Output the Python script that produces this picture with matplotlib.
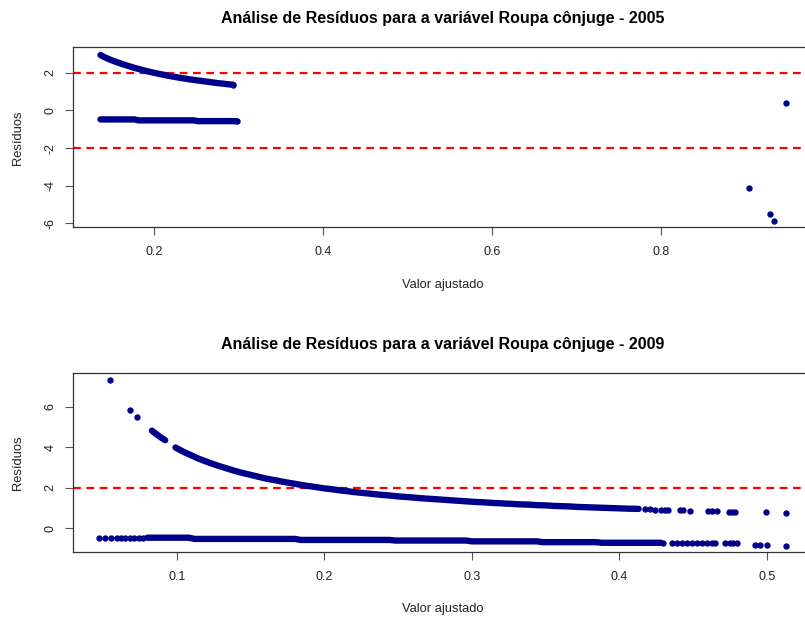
import matplotlib
matplotlib.use("Agg")
import matplotlib.pyplot as plt

# ---- 2005 panel ----
# dense runs of points (read along the bands)
x05_upper = [0.137, 0.142, 0.147, 0.152, 0.157, 0.162, 0.167, 0.172, 0.177, 0.182,
             0.187, 0.192, 0.197, 0.202, 0.207, 0.212, 0.217, 0.222, 0.227, 0.232,
             0.237, 0.242, 0.247, 0.252, 0.257, 0.262, 0.267, 0.272, 0.277, 0.282,
             0.287, 0.292, 0.294]
r05_upper = [2.94, 2.82, 2.72, 2.63, 2.55, 2.47, 2.40, 2.33, 2.26, 2.20,
             2.14, 2.08, 2.03, 1.98, 1.93, 1.89, 1.84, 1.80, 1.76, 1.72,
             1.69, 1.65, 1.62, 1.59, 1.56, 1.53, 1.50, 1.47, 1.44, 1.42,
             1.39, 1.37, 1.36]
x05_lower = [0.137, 0.142, 0.147, 0.152, 0.157, 0.162, 0.167, 0.172, 0.177, 0.182,
             0.187, 0.192, 0.197, 0.202, 0.207, 0.212, 0.217, 0.222, 0.227, 0.232,
             0.237, 0.242, 0.247, 0.252, 0.257, 0.262, 0.267, 0.272, 0.277, 0.282,
             0.287, 0.292, 0.298]
r05_lower = [-0.48, -0.48, -0.48, -0.48, -0.48, -0.48, -0.48, -0.48, -0.48, -0.53,
             -0.53, -0.53, -0.53, -0.53, -0.53, -0.53, -0.53, -0.53, -0.53, -0.53,
             -0.53, -0.53, -0.53, -0.57, -0.57, -0.57, -0.57, -0.57, -0.57, -0.57,
             -0.57, -0.57, -0.58]
# isolated points
x05_dots = [0.904, 0.929, 0.933, 0.948]
r05_dots = [-4.13, -5.52, -5.88, 0.39]

# ---- 2009 panel ----
x09_upper_a = [0.083, 0.086, 0.089, 0.092]
r09_upper_a = [4.82, 4.65, 4.49, 4.35]
x09_upper_b = [0.099, 0.103, 0.107, 0.111, 0.115, 0.119, 0.123, 0.127, 0.131, 0.135,
               0.139, 0.143, 0.147, 0.151, 0.155, 0.159, 0.163, 0.167, 0.171, 0.175,
               0.179, 0.183, 0.187, 0.191, 0.195, 0.199, 0.203, 0.207, 0.211, 0.215,
               0.219, 0.223, 0.227, 0.231, 0.235, 0.239, 0.243, 0.247, 0.251, 0.255,
               0.259, 0.263, 0.267, 0.271, 0.275, 0.279, 0.283, 0.287, 0.291, 0.295,
               0.299, 0.303, 0.307, 0.311, 0.315, 0.319, 0.323, 0.327, 0.331, 0.335,
               0.339, 0.343, 0.347, 0.351, 0.355, 0.359, 0.363, 0.367, 0.371, 0.375,
               0.379, 0.383, 0.387, 0.391, 0.395, 0.399, 0.403, 0.406, 0.409, 0.413]
r09_upper_b = [3.99, 3.83, 3.69, 3.56, 3.43, 3.32, 3.21, 3.11, 3.02, 2.93,
               2.84, 2.76, 2.69, 2.62, 2.55, 2.48, 2.42, 2.37, 2.31, 2.26,
               2.21, 2.16, 2.11, 2.07, 2.03, 1.98, 1.95, 1.91, 1.87, 1.84,
               1.80, 1.77, 1.74, 1.71, 1.68, 1.65, 1.63, 1.60, 1.57, 1.55,
               1.53, 1.50, 1.48, 1.46, 1.44, 1.42, 1.40, 1.38, 1.36, 1.34,
               1.32, 1.30, 1.29, 1.27, 1.25, 1.24, 1.22, 1.21, 1.19, 1.18,
               1.17, 1.15, 1.14, 1.13, 1.11, 1.10, 1.09, 1.08, 1.06, 1.05,
               1.04, 1.03, 1.02, 1.01, 1.00, 0.99, 0.98, 0.97, 0.97, 0.96]
x09_upper_dots = [0.0546, 0.0681, 0.0731,
                  0.417, 0.421, 0.424, 0.428, 0.431, 0.433, 0.441, 0.443, 0.448,
                  0.460, 0.463, 0.466, 0.474, 0.476, 0.478, 0.499, 0.513]
r09_upper_dots = [7.33, 5.84, 5.48,
                  0.95, 0.94, 0.93, 0.92, 0.92, 0.91, 0.90, 0.89, 0.88,
                  0.86, 0.85, 0.85, 0.83, 0.83, 0.83, 0.79, 0.78]
x09_lower = [0.080, 0.084, 0.088, 0.092, 0.096, 0.100, 0.104, 0.108, 0.112, 0.116,
             0.120, 0.124, 0.128, 0.132, 0.136, 0.140, 0.144, 0.148, 0.152, 0.156,
             0.160, 0.164, 0.168, 0.172, 0.176, 0.180, 0.184, 0.188, 0.192, 0.196,
             0.200, 0.204, 0.208, 0.212, 0.216, 0.220, 0.224, 0.228, 0.232, 0.236,
             0.240, 0.244, 0.248, 0.252, 0.256, 0.260, 0.264, 0.268, 0.272, 0.276,
             0.280, 0.284, 0.288, 0.292, 0.296, 0.300, 0.304, 0.308, 0.312, 0.316,
             0.320, 0.324, 0.328, 0.332, 0.336, 0.340, 0.344, 0.348, 0.352, 0.356,
             0.360, 0.364, 0.368, 0.372, 0.376, 0.380, 0.384, 0.388, 0.392, 0.396,
             0.400, 0.404, 0.408, 0.412, 0.416, 0.420, 0.424, 0.428]
r09_lower = [-0.46, -0.46, -0.46, -0.46, -0.46, -0.46, -0.46, -0.46, -0.52, -0.52,
             -0.52, -0.52, -0.52, -0.52, -0.52, -0.52, -0.52, -0.52, -0.52, -0.52,
             -0.52, -0.52, -0.52, -0.52, -0.52, -0.52, -0.57, -0.57, -0.57, -0.57,
             -0.57, -0.57, -0.57, -0.57, -0.57, -0.57, -0.57, -0.57, -0.57, -0.57,
             -0.57, -0.57, -0.60, -0.60, -0.60, -0.60, -0.60, -0.60, -0.60, -0.60,
             -0.60, -0.60, -0.60, -0.60, -0.60, -0.64, -0.64, -0.64, -0.64, -0.64,
             -0.64, -0.64, -0.64, -0.64, -0.64, -0.64, -0.64, -0.68, -0.68, -0.68,
             -0.68, -0.68, -0.68, -0.68, -0.68, -0.68, -0.68, -0.71, -0.71, -0.71,
             -0.71, -0.71, -0.71, -0.71, -0.71, -0.71, -0.71, -0.71]
x09_lower_dots = [0.047, 0.051, 0.055, 0.059, 0.062, 0.065, 0.068, 0.071, 0.074, 0.077,
                  0.4297, 0.4354, 0.4388, 0.4422, 0.4456, 0.4490, 0.4523, 0.4557,
                  0.4591, 0.4625, 0.4647, 0.4715, 0.4749, 0.4772, 0.4794, 0.4919,
                  0.4953, 0.4998, 0.5129]
r09_lower_dots = [-0.46, -0.46, -0.46, -0.46, -0.46, -0.46, -0.46, -0.46, -0.46, -0.46,
                  -0.74, -0.74, -0.74, -0.74, -0.74, -0.74, -0.74, -0.74,
                  -0.74, -0.74, -0.74, -0.74, -0.74, -0.74, -0.74, -0.82,
                  -0.82, -0.82, -0.87]

titles = ["Análise de Resíduos para a variável Roupa cônjuge - 2005",
          "Análise de Resíduos para a variável Roupa cônjuge - 2009"]
xticks05 = [0.2, 0.4, 0.6, 0.8]
yticks05 = [-6, -4, -2, 0, 2]
xticks09 = [0.1, 0.2, 0.3, 0.4, 0.5]
yticks09 = [0, 2, 4, 6]
ref05 = [2, -2]
ref09 = [2, -2]

plt.rcParams['font.family'] = ['Liberation Sans', 'DejaVu Sans']

W, H = 805, 620
fig = plt.figure(figsize=(W / 100, H / 100), dpi=100)
fig.patch.set_facecolor('white')

PT_COLOR = '#00008B'
PT_SIZE = 21            # scatter area, pt^2
PT_DIAM = PT_SIZE ** 0.5


def setup_axes(ax, title, xticks, yticks, xlim, ylim, refs):
    ax.set_xlim(*xlim)
    ax.set_ylim(*ylim)
    for y in refs:
        ax.axhline(y, color='red', lw=1.6, ls=(0, (3.5, 2.5)), zorder=1)
    ax.set_xticks(xticks)
    ax.set_yticks(yticks)
    ax.set_xticklabels([f"{t:g}" for t in xticks])
    ax.set_yticklabels([f"{t:g}" for t in yticks], rotation=90, va='center')
    ax.tick_params(direction='out', length=6, width=0.8, colors='#555555',
                   labelsize=9, labelcolor='#222222', pad=6)
    ax.tick_params(axis='x', pad=7.5)
    for s in ax.spines.values():
        s.set_color('#333333')
        s.set_linewidth(0.9)
    ax.set_xlabel("Valor ajustado", fontsize=9.3, color='#222222', va='top')
    ax.set_ylabel("Resíduos", fontsize=9.3, color='#222222')
    ax.text(0.5, 1.16, title, transform=ax.transAxes, ha='center', va='center',
            fontsize=11.5, fontweight='bold', color='black')


def band(ax, xs, ys):
    # a dense run of overlapping points
    ax.plot(xs, ys, color=PT_COLOR, lw=PT_DIAM, solid_capstyle='round',
            solid_joinstyle='round', zorder=2)


def dots(ax, xs, ys):
    ax.scatter(xs, ys, s=PT_SIZE, color=PT_COLOR, lw=0, zorder=2)


# top panel
ax1 = fig.add_axes([73 / W, 1 - 227.3 / H, 740 / W, 180 / H])
setup_axes(ax1, titles[0], xticks05, yticks05, (0.1045, 0.9795), (-6.21, 3.35), ref05)
band(ax1, x05_upper, r05_upper)
band(ax1, x05_lower, r05_lower)
dots(ax1, x05_upper[-1:], r05_upper[-1:])
dots(ax1, x05_lower[-1:], r05_lower[-1:])
dots(ax1, x05_dots, r05_dots)
ax1.xaxis.set_label_coords(0.5, -0.287)
ax1.yaxis.set_label_coords(-0.066, 0.5)

# bottom panel
ax2 = fig.add_axes([73 / W, 1 - 552.3 / H, 740 / W, 179 / H])
setup_axes(ax2, titles[1], xticks09, yticks09, (0.0295, 0.5312), (-1.18, 7.65), ref09)
band(ax2, x09_upper_a, r09_upper_a)
band(ax2, x09_upper_b, r09_upper_b)
band(ax2, x09_lower, r09_lower)
dots(ax2, x09_upper_dots, r09_upper_dots)
dots(ax2, x09_lower_dots, r09_lower_dots)
ax2.xaxis.set_label_coords(0.5, -0.283)
ax2.yaxis.set_label_coords(-0.066, 0.5)

fig.savefig("out.png", dpi=100)
